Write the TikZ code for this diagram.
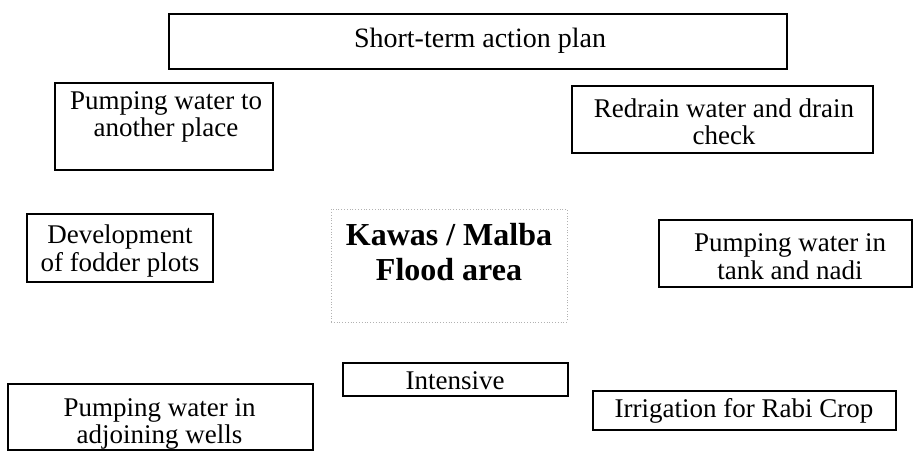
\documentclass[tikz,border=0pt]{standalone}
\usepackage{fontspec}
\setmainfont{Liberation Serif}
\begin{document}
\begin{tikzpicture}[x=1pt,y=-1pt,
  boxnode/.style={draw=black, line width=1.4pt, rectangle, inner sep=0pt},
  dotbox/.style={draw=black!30, line width=0.8pt, dotted, rectangle, inner sep=0pt},
  txt/.style={align=center, inner sep=0pt, font=\fontsize{27}{27.5}\selectfont},
  bigtxt/.style={align=center, inner sep=0pt, font=\fontsize{32}{35}\selectfont\bfseries}]
\useasboundingbox (0,0) rectangle (917,452);
\fill[white] (0,0) rectangle (917,452);

% boxes
\node[boxnode, minimum width=618, minimum height=55] (btop) at (478,41.5) {};
\node[boxnode, minimum width=218, minimum height=87] (bpw) at (164,126.5) {};
\node[boxnode, minimum width=301, minimum height=67] (brd) at (722.5,119.5) {};
\node[boxnode, minimum width=186, minimum height=68] (bdev) at (120,248) {};
\node[dotbox, minimum width=236, minimum height=113] (bctr) at (449,265.5) {};
\node[boxnode, minimum width=253, minimum height=67] (btank) at (785.5,253.5) {};
\node[boxnode, minimum width=225, minimum height=33] (bint) at (455.5,379.5) {};
\node[boxnode, minimum width=305, minimum height=66] (bwells) at (160.5,417) {};
\node[boxnode, minimum width=303, minimum height=39] (brabi) at (744.5,410.5) {};

% texts
\node[txt, font=\fontsize{28}{28}\selectfont] (ttop) at (480,40.5) {Short-term action plan};
\node[txt] (tpw) at (166,117) {Pumping water to\\another place};
\node[txt] (trd) at (724,122) {Redrain water and drain\\check};
\node[txt] (tdev) at (120,251) {Development\\of fodder plots};
\node[bigtxt] (tctr) at (449,252.5) {Kawas / Malba\\Flood area};
\node[txt] (ttank) at (790,256.5) {Pumping water in\\tank and nadi};
\node[txt] (tint) at (455,381) {Intensive};
\node[txt] (twells) at (159.5,424) {Pumping water in\\adjoining wells};
\node[txt] (trabi) at (744,411) {Irrigation for Rabi Crop};
\end{tikzpicture}
\end{document}
